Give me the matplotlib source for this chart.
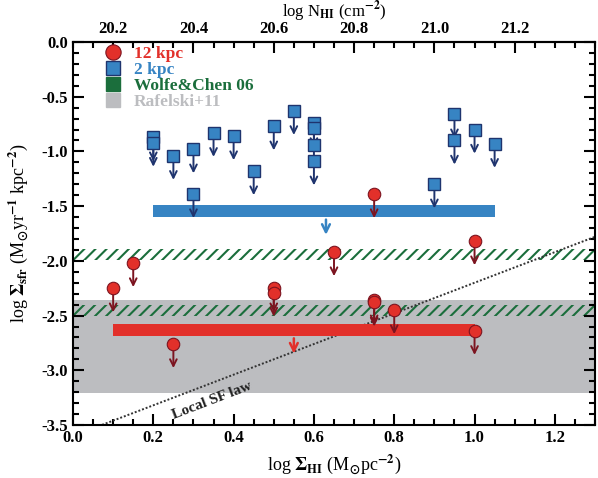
import matplotlib
matplotlib.use("Agg")
import matplotlib.pyplot as plt
from matplotlib.ticker import MultipleLocator
from matplotlib.lines import Line2D

plt.rcParams['font.family'] = ['Liberation Serif', 'DejaVu Serif']
plt.rcParams['font.weight'] = 'bold'
plt.rcParams['mathtext.fontset'] = 'stix'
plt.rcParams['mathtext.default'] = 'bf'
plt.rcParams['axes.unicode_minus'] = False
plt.rcParams['hatch.linewidth'] = 1.5

# 2 kpc upper limits (blue squares)
sq_x = [0.20, 0.20, 0.25, 0.30, 0.35, 0.40, 0.45, 0.50, 0.55, 0.60, 0.60, 0.60, 0.60,
        0.30, 0.90, 0.95, 0.95, 1.00, 1.05]
sq_y = [-0.87, -0.92, -1.04, -0.98, -0.83, -0.86, -1.18, -0.77, -0.63, -0.74, -0.79, -0.94, -1.09,
        -1.39, -1.30, -0.66, -0.90, -0.80, -0.93]

# 12 kpc upper limits (red circles)
circ_x = [0.10, 0.15, 0.25, 0.50, 0.50, 0.65, 0.75, 0.75, 0.75, 0.80, 1.00, 1.00]
circ_y = [-2.25, -2.02, -2.76, -2.25, -2.29, -1.92, -1.39, -2.36, -2.38, -2.45, -1.82, -2.64]

# stacked limits (bars): x range, level, arrow position
blue_bar = dict(x0=0.20, x1=1.05, y=-1.545, arrow_x=0.63)
red_bar = dict(x0=0.10, x1=1.00, y=-2.63, arrow_x=0.55)

# Wolfe & Chen 06 bands and Rafelski+11 range
wolfe_bands = [(-1.99, -1.89), (-2.50, -2.40)]
rafelski_band = (-3.21, -2.36)

# local SF law (Kennicutt) end points
sf_law_x = [0.0, 1.3]
sf_law_y = [-3.60, -1.78]

arrow_len = 0.22
nhi_offset = 20.1
top_ticks = [20.2, 20.4, 20.6, 20.8, 21.0, 21.2]

c_red = '#e2302a'
c_red_dark = '#7c1420'
c_blue = '#3784c3'
c_navy = '#1f346e'
c_green = '#1b6e3c'
c_gray = '#bcbdc0'

fig = plt.figure(figsize=(5.98, 4.78), dpi=100)
ax = fig.add_axes([73 / 598, 1 - 425 / 478, 522 / 598, 383 / 478])

ax.axhspan(rafelski_band[0], rafelski_band[1], color=c_gray, lw=0, zorder=0)
for lo, hi in wolfe_bands:
    ax.axhspan(lo, hi, facecolor='none', edgecolor=c_green, hatch='///', lw=0, zorder=1)

ax.plot(sf_law_x, sf_law_y, ls=(0, (1, 1)), color='#333333', lw=1.4, zorder=2)
ax.text(0.345, -3.28, 'Local SF law', rotation=21, ha='center', va='center',
        fontsize=11, color='#222222', zorder=2)

bar_h = 0.105
for bar, col in [(blue_bar, c_blue), (red_bar, c_red)]:
    ax.barh(bar['y'], bar['x1'] - bar['x0'], left=bar['x0'], height=bar_h,
            color=col, lw=0, zorder=2)
    ax.annotate('', xy=(bar['arrow_x'], bar['y'] - bar_h / 2 - 0.19),
                xytext=(bar['arrow_x'], bar['y'] - bar_h / 2),
                arrowprops=dict(arrowstyle='->', color=col, lw=1.8, mutation_scale=14),
                zorder=3)

for xs, ys, col in [(sq_x, sq_y, c_navy), (circ_x, circ_y, c_red_dark)]:
    for x, y in zip(xs, ys):
        ax.annotate('', xy=(x, y - arrow_len), xytext=(x, y),
                    arrowprops=dict(arrowstyle='->', color=col, lw=1.4, mutation_scale=12,
                                    shrinkA=0, shrinkB=0),
                    zorder=3)

ax.plot(sq_x, sq_y, 's', ms=8.5, mfc=c_blue, mec=c_navy, mew=1.0, ls='none', zorder=4)
ax.plot(circ_x, circ_y, 'o', ms=9, mfc=c_red, mec=c_red_dark, mew=0.8, ls='none', zorder=4)

ax.set_xlim(0, 1.3)
ax.set_ylim(-3.5, 0.0)
ax.xaxis.set_major_locator(MultipleLocator(0.2))
ax.xaxis.set_minor_locator(MultipleLocator(0.05))
ax.yaxis.set_major_locator(MultipleLocator(0.5))
ax.yaxis.set_minor_locator(MultipleLocator(0.1))
ax.xaxis.set_major_formatter(lambda v, p: f'{v:.1f}')
ax.yaxis.set_major_formatter(lambda v, p: f'{v:.1f}')
ax.tick_params(which='both', direction='in', top=False, right=True, width=1.5, labelsize=12)
ax.tick_params(which='major', length=8)
ax.tick_params(which='minor', length=4)
for s in ax.spines.values():
    s.set_linewidth(1.5)

secax = ax.secondary_xaxis('top', functions=(lambda x: x + nhi_offset, lambda n: n - nhi_offset))
secax.set_xticks(top_ticks)
secax.xaxis.set_minor_locator(MultipleLocator(0.05))
secax.xaxis.set_major_formatter(lambda v, p: f'{v:.1f}')
secax.tick_params(which='both', direction='in', width=1.5, labelsize=12)
secax.tick_params(which='major', length=8)
secax.tick_params(which='minor', length=4)
secax.spines['top'].set_linewidth(1.5)
secax.set_xlabel(r'log N$_{HI}$ (cm$^{-2}$)', fontsize=12, labelpad=3.5)

ax.set_xlabel(r'log $\Sigma_{HI}$ (M$_{\odot}$pc$^{-2}$)', fontsize=13, labelpad=5)
ax.set_ylabel(r'log $\Sigma_{sfr}$ (M$_{\odot}$yr$^{-1}$ kpc$^{-2}$)', fontsize=13, labelpad=8)

handles = [
    Line2D([], [], marker='o', ls='none', ms=11, mfc=c_red, mec=c_red_dark, mew=0.8),
    Line2D([], [], marker='s', ls='none', ms=10, mfc=c_blue, mec=c_navy, mew=1.0),
    Line2D([], [], marker='s', ls='none', ms=10, mfc=c_green, mec=c_green),
    Line2D([], [], marker='s', ls='none', ms=10, mfc=c_gray, mec=c_gray),
]
labels = ['12 kpc', '2 kpc', 'Wolfe&Chen 06', 'Rafelski+11']
leg = ax.legend(handles, labels, loc='upper left', bbox_to_anchor=(0.04, 1.018), frameon=False,
                fontsize=12.5, handlelength=1.0, handletextpad=0.7, labelspacing=0.0,
                borderaxespad=0.2)
for txt, col in zip(leg.get_texts(), [c_red, c_blue, c_green, c_gray]):
    txt.set_color(col)

fig.savefig('out.png', dpi=100)
